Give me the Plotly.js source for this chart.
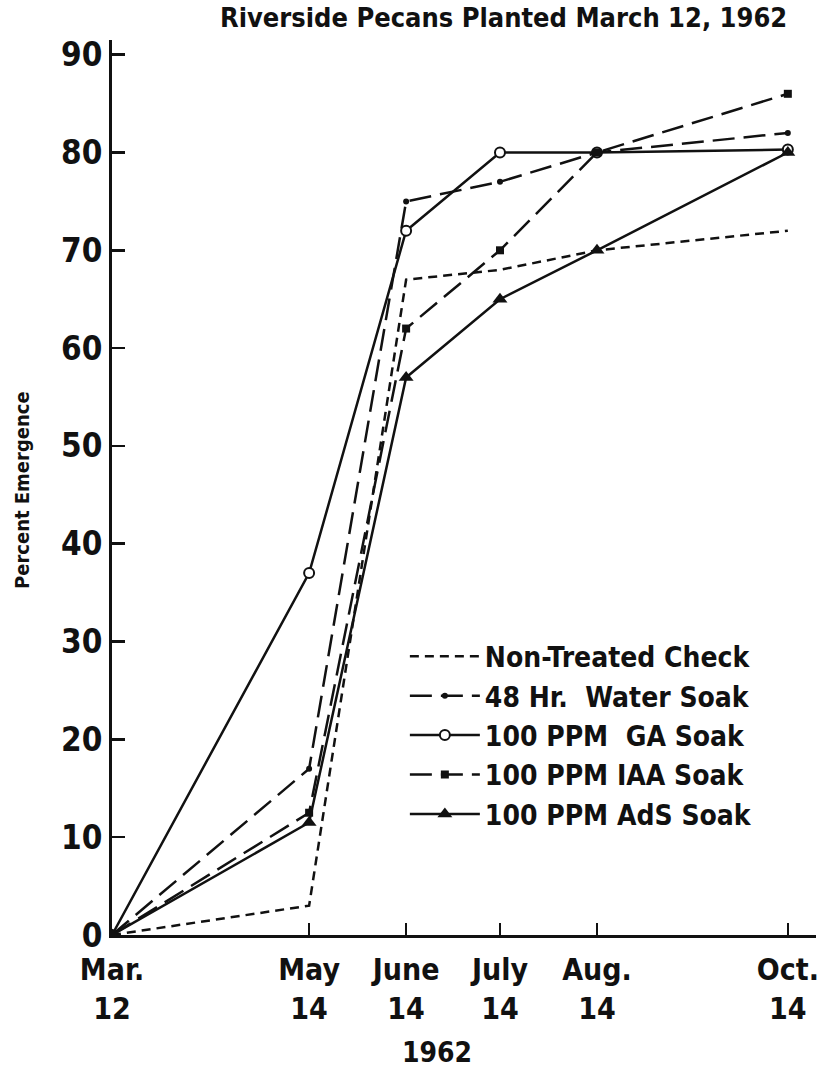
<!DOCTYPE html>
<html>
<head>
<meta charset="utf-8">
<script src="https://cdn.plot.ly/plotly-3.0.1.min.js"></script>
<style>html,body{margin:0;padding:0;background:#fff;}#chart{width:821px;height:1077px;}</style>
</head>
<body>
<div id="chart"></div>
<script>
// Data
const dates = ['1962-03-12', '1962-05-14', '1962-06-14', '1962-07-14', '1962-08-14', '1962-10-14'];
const tickLabels = ['Mar.<br>12', 'May<br>14', 'June<br>14', 'July<br>14', 'Aug.<br>14', 'Oct.<br>14'];
const seriesNames = ['Non-Treated Check', '48 Hr.  Water Soak', '100 PPM  GA Soak', '100 PPM IAA Soak', '100 PPM AdS Soak'];
const nonTreated = [0, 3, 67, 68, 70, 72];
const waterSoak = [0, 17, 75, 77, 80, 82];
const gaSoak = [0, 37, 72, 80, 80, 80.3];
const iaaSoak = [0, 12.5, 62, 70, 80, 86];
const adsSoak = [0, 11.5, 57, 65, 70, 80];
const yTicks = [0, 10, 20, 30, 40, 50, 60, 70, 80, 90];

const FONT = 'DejaVu Sans Condensed, sans-serif';
const ink = '#111';

const traces = [
  {x: dates, y: nonTreated, name: seriesNames[0], mode: 'lines',
   line: {color: ink, width: 2.5, dash: '9px,6px'}},
  {x: dates, y: waterSoak, name: seriesNames[1], mode: 'lines+markers',
   line: {color: ink, width: 2.5, dash: '22px,9px'},
   marker: {symbol: 'circle', size: 6, color: ink}},
  {x: dates, y: gaSoak, name: seriesNames[2], mode: 'lines+markers',
   line: {color: ink, width: 2.5},
   marker: {symbol: 'circle', size: 10, color: '#fff', line: {color: ink, width: 2}}},
  {x: dates, y: iaaSoak, name: seriesNames[3], mode: 'lines+markers',
   line: {color: ink, width: 2.5, dash: '22px,9px'},
   marker: {symbol: 'square', size: 8, color: ink}},
  {x: dates, y: adsSoak, name: seriesNames[4], mode: 'lines+markers',
   line: {color: ink, width: 2.5},
   marker: {symbol: 'triangle-up', size: 13, color: ink}}
];

const layout = {
  width: 821, height: 1077,
  margin: {l: 112, r: 5, t: 40, b: 142, autoexpand: false},
  paper_bgcolor: '#fff', plot_bgcolor: '#fff',
  font: {family: FONT, color: ink, weight: 'bold'},
  showlegend: true,
  legend: {
    x: 0.416, y: 0.339, xanchor: 'left', yanchor: 'top',
    font: {family: FONT, size: 28, color: ink, weight: 'bold'},
    bgcolor: 'rgba(0,0,0,0)', itemwidth: 70, tracegroupgap: 0
  },
  xaxis: {
    type: 'date', automargin: false,
    range: ['1962-03-12', '1962-10-23'],
    tickvals: dates, ticktext: tickLabels, tickangle: 0,
    ticks: 'inside', ticklen: 12, tickwidth: 2.5, tickcolor: ink,
    ticklabelstandoff: 6,
    showline: true, linewidth: 3, linecolor: ink,
    showgrid: false, zeroline: false,
    tickfont: {family: FONT, size: 30, color: ink, weight: 'bold'}
  },
  yaxis: {
    range: [0, 91.5], automargin: false,
    tickvals: yTicks,
    ticks: 'inside', ticklen: 13, tickwidth: 2.5, tickcolor: ink,
    showline: true, linewidth: 3, linecolor: ink,
    showgrid: false, zeroline: false,
    tickfont: {family: FONT, size: 33, color: ink, weight: 'bold'}
  },
  annotations: [
    {text: 'Riverside Pecans Planted March 12, 1962', xref: 'paper', yref: 'paper',
     x: (504 - 112) / 704, y: (935 - 18) / 895, xanchor: 'center', yanchor: 'middle', showarrow: false,
     font: {family: FONT, size: 27, color: ink, weight: 'bold'}},
    {text: 'Percent Emergence', xref: 'paper', yref: 'paper', textangle: -90,
     x: (22 - 112) / 704, y: (935 - 490) / 895, xanchor: 'center', yanchor: 'middle', showarrow: false,
     font: {family: FONT, size: 20, color: ink, weight: 'bold'}},
    {text: '1962', xref: 'paper', yref: 'paper',
     x: (437 - 112) / 704, y: (935 - 1052) / 895, xanchor: 'center', yanchor: 'middle', showarrow: false,
     font: {family: FONT, size: 28, color: ink, weight: 'bold'}}
  ]
};

Plotly.newPlot('chart', traces, layout, {displayModeBar: false, staticPlot: true});
</script>
</body>
</html>
